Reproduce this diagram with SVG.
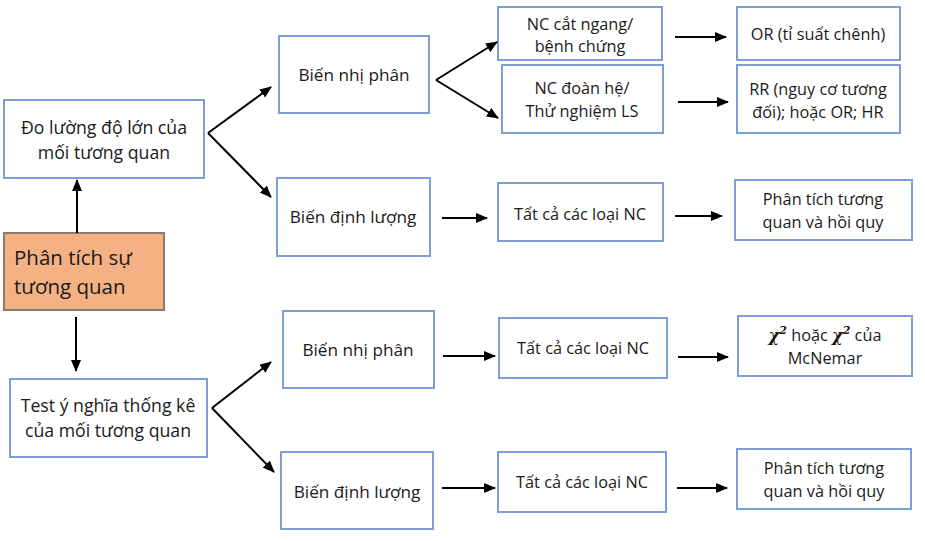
<svg xmlns="http://www.w3.org/2000/svg" width="925" height="541" viewBox="0 0 925 541">
<style>
.b{fill:#fff;stroke:#7f9ed6;stroke-width:2}
.o{fill:#f4b183;stroke:#8c7a70;stroke-width:2}
text{font-family:"Open Sans","Liberation Sans",sans-serif;font-size:16.3px;fill:#1a1a1a;text-anchor:middle}
.big{font-size:20.5px;text-anchor:start}
.l{font-size:17.7px}
.v{font-size:17.2px}
.c line{stroke:#000;stroke-width:2;marker-end:url(#a)}
.m{font-family:"DejaVu Serif","Liberation Serif",serif;font-style:italic;font-weight:bold}
</style>
<defs>
<marker id="a" markerUnits="userSpaceOnUse" markerWidth="12" markerHeight="10" refX="11" refY="5" orient="auto">
<path d="M0,0 L12,5 L0,10 z" fill="#000"/>
</marker>
</defs>
<g id="n-do-luong"><rect class="b" x="4" y="100" width="200" height="78"/><text class="l" x="104" y="134">Đo lường độ lớn của</text><text class="l" x="104" y="159">mối tương quan</text></g>
<g id="n-phan-tich"><rect class="o" x="4" y="233" width="160" height="77"/><text class="big" x="14" y="265">Phân tích sự</text><text class="big" x="14" y="294">tương quan</text></g>
<g id="n-test"><rect class="b" x="10" y="379" width="197" height="78"/><text class="l" x="108" y="412">Test ý nghĩa thống kê</text><text class="l" x="108" y="437">của mối tương quan</text></g>
<g id="n-bnp1"><rect class="b" x="279" y="36" width="150" height="77"/><text class="v" x="354" y="81">Biến nhị phân</text></g>
<g id="n-bdl1"><rect class="b" x="277" y="178" width="153" height="78"/><text class="v" x="353" y="223">Biến định lượng</text></g>
<g id="n-nc-cat"><rect class="b" x="498" y="7" width="164" height="53"/><text x="580" y="30">NC cắt ngang/</text><text x="580" y="52">bệnh chứng</text></g>
<g id="n-nc-doan"><rect class="b" x="502" y="65" width="161" height="68"/><text x="582" y="94">NC đoàn hệ/</text><text x="582" y="117">Thử nghiệm LS</text></g>
<g id="n-or"><rect class="b" x="737" y="7" width="163" height="53"/><text x="818" y="40">OR (tỉ suất chênh)</text></g>
<g id="n-rr"><rect class="b" x="737" y="65" width="163" height="68"/><text x="818" y="95">RR (nguy cơ tương</text><text x="818" y="118">đối); hoặc OR; HR</text></g>
<g id="n-tc1"><rect class="b" x="498" y="183" width="165" height="58"/><text x="580" y="220">Tất cả các loại NC</text></g>
<g id="n-pt1"><rect class="b" x="735" y="180" width="177" height="60"/><text x="823" y="205">Phân tích tương</text><text x="823" y="228">quan và hồi quy</text></g>
<g id="n-bnp2"><rect class="b" x="283" y="311" width="151" height="77"/><text class="v" x="358" y="356">Biến nhị phân</text></g>
<g id="n-tc2"><rect class="b" x="499" y="318" width="168" height="60"/><text x="583" y="354">Tất cả các loại NC</text></g>
<g id="n-chi"><rect class="b" x="738" y="316" width="174" height="60"/><text x="825" y="341"><tspan class="m">χ</tspan><tspan class="m" font-size="11" dy="-7">2</tspan><tspan dy="7"> hoặc </tspan><tspan class="m">χ</tspan><tspan class="m" font-size="11" dy="-7">2</tspan><tspan dy="7"> của</tspan></text><text x="825" y="364">McNemar</text></g>
<g id="n-bdl2"><rect class="b" x="281" y="452" width="152" height="77"/><text class="v" x="357" y="498">Biến định lượng</text></g>
<g id="n-tc3"><rect class="b" x="498" y="452" width="168" height="60"/><text x="582" y="488">Tất cả các loại NC</text></g>
<g id="n-pt2"><rect class="b" x="737" y="449" width="174" height="60"/><text x="824" y="474">Phân tích tương</text><text x="824" y="497">quan và hồi quy</text></g>
<g id="connectors" class="c">
<line x1="77" y1="233" x2="77" y2="180"/>
<line x1="76" y1="317" x2="76" y2="371"/>
<line x1="208" y1="133" x2="271" y2="87"/>
<line x1="208" y1="133" x2="271" y2="197"/>
<line x1="212" y1="408" x2="271" y2="362"/>
<line x1="212" y1="408" x2="274" y2="472"/>
<line x1="436" y1="80" x2="497" y2="42"/>
<line x1="436" y1="80" x2="498" y2="118"/>
<line x1="675" y1="37" x2="726" y2="37"/>
<line x1="678" y1="102" x2="728" y2="102"/>
<line x1="442" y1="218" x2="487" y2="218"/>
<line x1="675" y1="216" x2="722" y2="216"/>
<line x1="443" y1="356" x2="495" y2="356"/>
<line x1="678" y1="357" x2="728" y2="357"/>
<line x1="442" y1="488" x2="495" y2="488"/>
<line x1="677" y1="488" x2="727" y2="488"/>
</g>
</svg>
